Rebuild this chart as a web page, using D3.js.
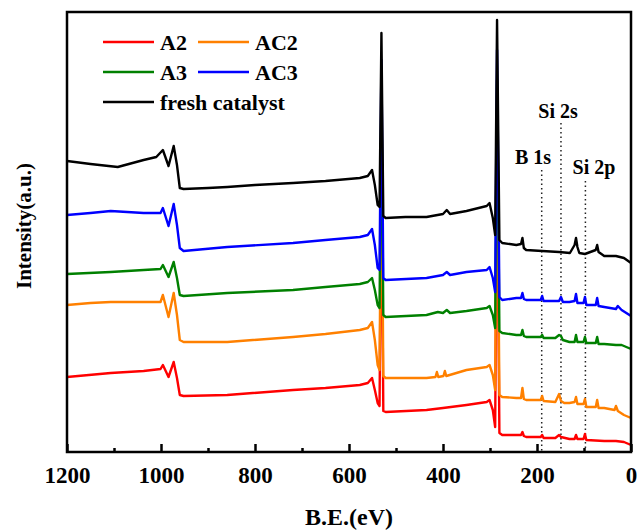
<!DOCTYPE html>
<html>
<head>
<meta charset="utf-8" />
<script src="https://d3js.org/d3.v7.min.js"></script>
<style>
  body { margin: 0; background: #fff; }
  text { font-family: "Liberation Serif", "Times New Roman", serif; font-weight: bold; }
</style>
</head>
<body>
<div id="canvas"></div>
<script>
// legend names and colours
var names = ["A2", "AC2", "A3", "AC3", "fresh catalyst"];
var colors = ["#ff0000", "#ff8000", "#008000", "#0000ff", "#000000"];

// spectra: [B.E.(eV), intensity (a.u.)]
var a2 = [[1200,75],[1107,79],[1037,81],[1001,83],[996,87],[984,75],[973,90],[966,74],[960,57],[952,56],[859,57],[719,62],[650,64],[577,67],[560,69],[551,74],[545,62],[539,49],[535,46],[531,292],[527,41],[522,40],[435,42],[400,44],[350,47],[307,50],[301,52],[294,42],[289,25],[285,302],[280,19],[274,17],[244,17],[234,17],[231,20],[228,16],[223,15],[192,15],[189,17],[186,14],[161,14],[153,17],[149,15],[131,13],[120,13],[117,17],[114,13],[101,13],[98,18],[95,12],[57,11],[32,11],[15,10],[0,7]];
var ac2 = [[1200,147],[1150,149],[1107,150],[1037,150],[1001,150],[996,157],[984,135],[973,159],[966,137],[960,112],[952,110],[859,110],[719,115],[650,118],[577,122],[560,124],[551,130],[545,112],[539,87],[535,82],[531,332],[527,76],[522,74],[435,74],[416,75],[413,80],[410,75],[399,76],[396,81],[393,76],[350,82],[307,85],[301,87],[294,77],[289,62],[285,342],[280,57],[274,55],[244,54],[234,54],[231,64],[228,53],[223,52],[192,52],[189,56],[186,51],[161,50],[153,58],[149,51],[142,49],[131,49],[120,50],[117,55],[114,48],[101,48],[98,53],[95,45],[75,45],[72,52],[69,44],[57,44],[35,42],[32,46],[28,41],[15,37],[0,34]];
var a3 = [[1200,178],[1107,180],[1037,182],[1001,183],[996,187],[984,175],[973,190],[966,174],[960,157],[952,156],[859,159],[719,162],[650,165],[577,168],[560,170],[551,174],[545,162],[539,147],[535,144],[531,362],[527,137],[522,135],[435,137],[411,140],[400,139],[392,142],[385,139],[350,141],[307,144],[301,146],[294,137],[289,124],[285,372],[280,121],[274,119],[244,117],[234,117],[231,122],[228,116],[223,115],[192,115],[189,117],[186,114],[161,114],[153,117],[149,116],[145,112],[131,110],[120,110],[117,117],[114,110],[101,110],[98,115],[95,109],[75,109],[72,115],[69,108],[57,108],[32,107],[20,107],[0,103]];
var ac3 = [[1200,237],[1150,239],[1107,241],[1037,239],[1001,239],[996,244],[984,226],[973,248],[966,227],[960,204],[952,201],[859,205],[719,209],[650,212],[577,215],[560,217],[551,223],[545,207],[539,184],[535,182],[531,392],[527,174],[522,172],[435,174],[400,177],[392,180],[385,177],[350,180],[307,182],[301,185],[294,174],[289,160],[285,402],[280,155],[274,152],[244,154],[234,154],[231,159],[228,153],[223,152],[192,152],[189,156],[186,151],[153,151],[149,155],[145,150],[131,150],[120,151],[117,158],[114,149],[101,149],[98,155],[95,147],[75,147],[72,154],[69,146],[57,145],[32,143],[28,146],[20,142],[0,136]];
var fresh = [[1200,291],[1150,288],[1092,285],[1037,292],[1010,295],[996,302],[984,286],[973,306],[966,287],[960,264],[952,263],[900,264],[859,265],[800,267],[719,269],[650,271],[577,274],[560,276],[551,282],[545,267],[539,247],[535,245],[531,419],[527,236],[522,234],[480,235],[435,235],[400,238],[392,242],[385,238],[350,241],[307,246],[301,249],[294,234],[289,217],[285,432],[280,212],[274,209],[244,207],[234,208],[231,214],[228,204],[223,202],[189,201],[153,200],[130,199],[120,207],[117,214],[114,205],[110,199],[98,198],[75,202],[72,207],[69,200],[57,196],[32,196],[15,194],[0,189]];
var series = [a2, ac2, a3, ac3, fresh];

// x axis ticks and peak markers
var majorTicks = [1200, 1000, 800, 600, 400, 200, 0];
var minorTicks = [1100, 900, 700, 500, 300, 100];
var peakNames = ["B 1s", "Si 2s", "Si 2p"];
var peakBE = [190, 149, 97];

var W = 638, H = 532;
var pL = 67, pR = 631, pT = 12, pB = 452;

var svg = d3.select("#canvas").append("svg")
  .attr("width", W).attr("height", H);

var x = d3.scaleLinear().domain([1200, 0]).range([pL, pR]);
var y = d3.scaleLinear().domain([0, 440]).range([pB, pT]);

svg.append("clipPath").attr("id", "clip")
  .append("rect").attr("x", pL).attr("y", pT)
  .attr("width", pR - pL).attr("height", pB - pT);

// peak marker lines
var peakTextX = [533, 558, 594];
var peakTextY = [164, 118, 174];
var peakLineTop = [170, 123, 181];
peakBE.forEach(function(b, i) {
  svg.append("line")
    .attr("x1", x(b)).attr("x2", x(b))
    .attr("y1", peakLineTop[i]).attr("y2", pB)
    .attr("stroke", "#222").attr("stroke-width", 1.5)
    .attr("stroke-dasharray", "1.5,3");
  svg.append("text")
    .attr("x", peakTextX[i]).attr("y", peakTextY[i])
    .attr("text-anchor", "middle")
    .attr("font-size", "20px")
    .text(peakNames[i]);
});

var line = d3.line()
  .x(function(d) { return x(d[0]); })
  .y(function(d) { return y(d[1]); });

svg.append("g").attr("clip-path", "url(#clip)")
  .selectAll("path").data(series).enter()
  .append("path")
  .attr("d", line)
  .attr("fill", "none")
  .attr("stroke", function(d, i) { return colors[i]; })
  .attr("stroke-width", 2.4)
  .attr("stroke-linejoin", "round");

// frame
svg.append("rect")
  .attr("x", pL).attr("y", pT)
  .attr("width", pR - pL).attr("height", pB - pT)
  .attr("fill", "none").attr("stroke", "#000").attr("stroke-width", 2.5);

// x axis, ticks inside
var xAxis = svg.append("g").attr("transform", "translate(0," + pB + ")")
  .call(d3.axisBottom(x).tickValues(majorTicks).tickFormat(d3.format("d"))
    .tickSizeInner(-8).tickSizeOuter(0).tickPadding(15));
xAxis.select(".domain").remove();
xAxis.selectAll(".tick line").attr("stroke-width", 2.5);
xAxis.selectAll(".tick text")
  .attr("font-size", "23px")
  .attr("font-family", "Liberation Serif, serif")
  .attr("font-weight", "bold")
  .attr("fill", "#000");

var xMinor = svg.append("g").attr("transform", "translate(0," + pB + ")")
  .call(d3.axisBottom(x).tickValues(minorTicks).tickSizeInner(-4).tickSizeOuter(0).tickFormat(""));
xMinor.select(".domain").remove();
xMinor.selectAll(".tick line").attr("stroke-width", 2.5);

// axis titles
svg.append("text")
  .attr("x", (pL + pR) / 2).attr("y", 525)
  .attr("text-anchor", "middle").attr("font-size", "24px")
  .text("B.E.(eV)");

svg.append("text")
  .attr("transform", "translate(31,226) rotate(-90)")
  .attr("text-anchor", "middle").attr("font-size", "21px")
  .text("Intensity(a.u.)");

// legend
var legX = [103, 198, 103, 198, 103];
var legY = [42, 42, 72, 72, 102];
var leg = svg.append("g");
names.forEach(function(n, i) {
  leg.append("line")
    .attr("x1", legX[i]).attr("x2", legX[i] + 51)
    .attr("y1", legY[i]).attr("y2", legY[i])
    .attr("stroke", colors[i]).attr("stroke-width", 2.5);
  leg.append("text")
    .attr("x", legX[i] + 57).attr("y", legY[i] + 8)
    .attr("font-size", "22px")
    .text(n);
});
</script>
</body>
</html>
